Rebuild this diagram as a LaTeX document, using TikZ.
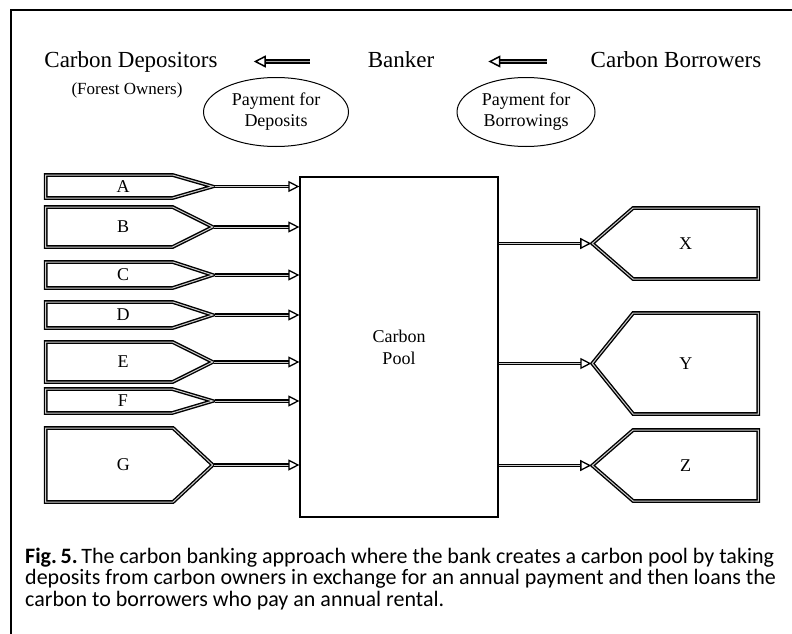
\documentclass[tikz,border=0pt]{standalone}
\usepackage{fontspec}
\setmainfont{Liberation Serif}
\newfontfamily\capfont{Carlito}
\usetikzlibrary{arrows.meta, positioning, shapes.geometric, shapes.symbols}

\begin{document}
\begin{tikzpicture}[x=1pt, y=-1pt, line join=miter]

		\tikzset{
			head/.style={
					font=\fontsize{23}{27}\selectfont, text height=16pt, text depth=5pt, inner sep=0pt
				},
			sub/.style={
					font=\fontsize{17}{19}\selectfont, inner sep=0pt
				},
			pay/.style={
					ellipse, draw, line width=1pt, minimum width=145pt, minimum height=69pt, inner sep=0pt, align=center, font=\fontsize{18}{21}\selectfont
				},
			owner/.style={
					signal, signal to=east, anchor=west, draw, double=gray!40, double distance=1pt, line width=1.4pt, inner sep=0pt, minimum width=167pt,
					label={[font=\fontsize{18}{20}\selectfont, xshift=14pt]center:#1}
				},
			user/.style={
					signal, signal to=west, anchor=east, draw, double=gray!40, double distance=1pt, line width=1.4pt, inner sep=0pt, minimum width=166pt,
					label={[font=\fontsize{18}{20}\selectfont, xshift=-10pt]center:#1}
				},
			pool/.style={
					rectangle, draw, line width=1.2pt, minimum width=198pt, minimum height=340pt, align=center, font=\fontsize{18}{22}\selectfont
				},
			flow/.style={
					double=gray!40, double distance=1pt, line width=1.1pt, -{Triangle[open, length=11pt, width=11pt, line width=1.3pt]}
				},
			hflow/.style={
					yshift=2.5pt, double=gray!70, double distance=1pt, line width=1.8pt, -{Triangle[open, length=12pt, width=12pt, line width=1.5pt]}
				},
		}
		\useasboundingbox (0,0) rectangle (792,634);
		\draw[line width=2.5pt] (792,10) -| (11,634);

		\node[head](depo) at (131,61.5){Carbon Depositors};
		\node[head](banker) at (401,61.5){Banker};
		\node[head](borrow) at (676,61.5){Carbon Borrowers};
		\node[sub, below=10pt of depo, xshift=-4pt](forest){(Forest Owners)};

		\node[pay](paydep) at (276,112){Payment for\\Deposits};
		\node[pay, minimum width=138pt](paybor) at (526,112){Payment for\\Borrowings};

		\draw[hflow, shorten <=58pt, shorten >=36pt] (banker)--(depo);
		\draw[hflow, shorten <=44pt, shorten >=54pt] (borrow)--(banker);

		\node[pool](pool) at (399,347){Carbon\\Pool};

		\node[owner=A, minimum height=23pt, signal pointer angle=32](a) at (45,186.5){};
		\node[owner=B, minimum height=40pt, signal pointer angle=53](b) at (45,227){};
		\node[owner=C, minimum height=26pt, signal pointer angle=36](c) at (45,275){};
		\node[owner=D, minimum height=26pt, signal pointer angle=36](d) at (45,315){};
		\node[owner=E, minimum height=40pt, signal pointer angle=53](e) at (45,362){};
		\node[owner=F, minimum height=24pt, signal pointer angle=33](f) at (45,401){};
		\node[owner=G, minimum height=74pt, signal pointer angle=86](g) at (45,465){};

		\node[user=X, minimum height=71pt, signal pointer angle=82](x) at (759,243.5){};
		\node[user=Y, minimum height=101pt, signal pointer angle=102](y) at (759,363.5){};
		\node[user=Z, minimum height=71pt, signal pointer angle=82](z) at (759,465.5){};

		\foreach \s in {a,b,c,d,e,f,g}
			\draw[flow] (\s.east)--(\s.east -| pool.west);

		\foreach \s in {x,y,z}
			\draw[flow] (\s.west -| pool.east)--(\s.west);

		\node[anchor=base west, align=left, inner sep=0pt, font=\capfont\fontsize{22}{21.5}\selectfont](cap) at (25,606){\textbf{Fig.\,5.}\,The carbon banking approach where the bank creates a carbon pool by taking\\deposits from carbon owners in exchange for an annual payment and then loans the\\carbon to borrowers who pay an annual rental.};

	\end{tikzpicture}
\end{document}
